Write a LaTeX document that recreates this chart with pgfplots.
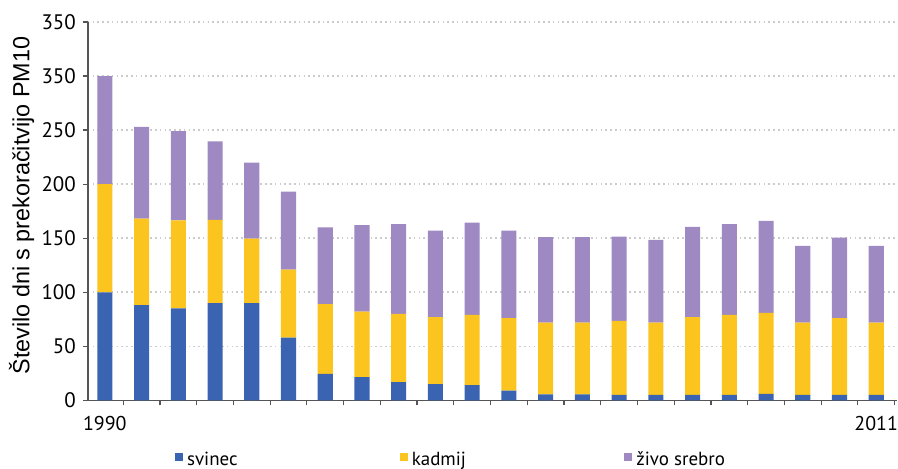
\documentclass[border=0pt]{standalone}
\usepackage{pgfplots}
\pgfplotsset{compat=1.18}
\usepackage{pgfplotstable}
\usepackage{fontspec}
\setmainfont{PT Sans}
\newfontfamily\labelfont{Liberation Sans}
\definecolor{cblue}{HTML}{3A63B2}
\definecolor{cyellow}{HTML}{FBC41E}
\definecolor{cpurple}{HTML}{9E89C2}
\definecolor{axgray}{HTML}{555555}
\pgfplotstableread{
x a b c
0 100 100 100
1 88 80 85
2 85 81.5 82.5
3 90 77 72.5
4 90 59.5 70.5
5 58 63 72
6 24.5 64.5 71
7 21.5 60.5 80
8 17 63 83
9 15 62 80
10 14 65 85.5
11 9 67 81
12 5.5 66.5 79
13 5.5 66.5 79
14 5 68.5 78
15 5 67 76.5
16 5 72 83.5
17 5 74 84
18 6 75 85
19 5 67 71
20 5 71 74.5
21 5 67 71
}\data
\begin{document}
\begin{tikzpicture}
\path (-44pt,-33.5pt) rectangle (405pt,200.5pt);
\begin{axis}[
  at={(0pt,0pt)}, anchor=south west,
  scale only axis, width=405pt, height=189.5pt,
  xmin=-0.462, xmax=21.555, ymin=0, ymax=350,
  axis lines=left,
  axis line style={-, draw=axgray, line width=0.8pt},
  ybar stacked, bar width=0.41,
  xtick={0.5,1.5,...,21.5}, xticklabels={},
  extra x ticks={0,21}, extra x tick labels={1990,2011},
  extra x tick style={major tick length=0pt, grid=none},
  ytick={0,50,...,350}, yticklabels={0,50,100,150,200,250,350,350},
  tick align=outside, major tick length=2.5pt,
  tick style={draw=axgray, line width=0.6pt},
  xticklabel style={font=\fontsize{10}{12}\selectfont, anchor=north, inner sep=0pt, yshift=-8pt},
  yticklabel style={font=\fontsize{10.5}{12}\selectfont},
  ymajorgrids,
  grid style={line width=0.8pt, gray!40, dash pattern=on 0.8pt off 1.6pt},
  ylabel={Število dni s prekoračitvijo PM10},
  ylabel style={at={(axis description cs:-0.082,0.5145)}, anchor=center, font=\labelfont\fontsize{11.7}{14}\selectfont},
  legend columns=3,
  legend style={draw=none, fill=none, inner sep=0pt, at={(axis description cs:0.1074,-0.158)}, anchor=west,
    font=\fontsize{9.5}{11}\selectfont, /tikz/every odd column/.style={column sep=2pt}, nodes={inner sep=0pt}},
  legend image code/.code={\fill[#1,draw=none] (0pt,-0.5pt) rectangle (4pt,3.5pt);},
]
\addplot[fill=cblue, draw=none] table[x=x, y=a] {\data};
\addlegendentry{\makebox[106.5pt][l]{svinec}}
\addplot[fill=cyellow, draw=none] table[x=x, y=b] {\data};
\addlegendentry{\makebox[106.5pt][l]{kadmij}}
\addplot[fill=cpurple, draw=none] table[x=x, y=c] {\data};
\addlegendentry{živo srebro}
\end{axis}
\end{tikzpicture}
\end{document}
